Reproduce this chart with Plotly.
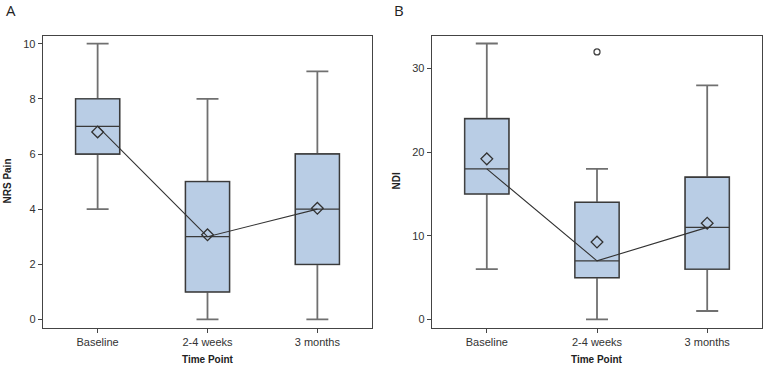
import plotly.graph_objects as go

W, H = 764, 365

categories = ["Baseline", "2-4 weeks", "3 months"]

# Panel A: NRS Pain
nrs_min = [4, 0, 0]
nrs_q1 = [6, 1, 2]
nrs_med = [7, 3, 4]
nrs_q3 = [8, 5, 6]
nrs_max = [10, 8, 9]
nrs_mean = [6.8, 3.07, 4.03]
nrs_ticks = [0, 2, 4, 6, 8, 10]

# Panel B: NDI
ndi_min = [6, 0, 1]
ndi_q1 = [15, 5, 6]
ndi_med = [18, 7, 11]
ndi_q3 = [24, 14, 17]
ndi_max = [33, 18, 28]
ndi_mean = [19.2, 9.25, 11.5]
ndi_ticks = [0, 10, 20, 30]
ndi_out_x = ["2-4 weeks"]
ndi_out_y = [32]

FILL = "#B9CDE5"
BORDER = "#3a3a3a"
WHISK = "#707070"

fig = go.Figure()


def add_panel(xa, ya, mn, q1, med, q3, mx, mean):
    # whiskers (gray)
    fig.add_trace(go.Box(
        x=categories, q1=q1, median=med, q3=q3, lowerfence=mn, upperfence=mx,
        fillcolor=FILL, line=dict(color=WHISK, width=1.8), width=0.4,
        whiskerwidth=0.5, boxpoints=False, hoverinfo="skip",
        xaxis=xa, yaxis=ya, showlegend=False))
    # box body (dark border)
    fig.add_trace(go.Box(
        x=categories, q1=q1, median=med, q3=q3, lowerfence=q1, upperfence=q3,
        fillcolor=FILL, line=dict(color=BORDER, width=1.3), width=0.4,
        whiskerwidth=0, boxpoints=False, hoverinfo="skip",
        xaxis=xa, yaxis=ya, showlegend=False))
    # median connecting line
    fig.add_trace(go.Scatter(
        x=categories, y=med, mode="lines",
        line=dict(color="#333333", width=1.1),
        xaxis=xa, yaxis=ya, showlegend=False, hoverinfo="skip"))
    # means
    fig.add_trace(go.Scatter(
        x=categories, y=mean, mode="markers",
        marker=dict(symbol="diamond-open", size=9, color="#333333",
                    line=dict(width=1.3, color="#333333")),
        xaxis=xa, yaxis=ya, showlegend=False, hoverinfo="skip"))


add_panel("x", "y", nrs_min, nrs_q1, nrs_med, nrs_q3, nrs_max, nrs_mean)
add_panel("x2", "y2", ndi_min, ndi_q1, ndi_med, ndi_q3, ndi_max, ndi_mean)
fig.add_trace(go.Scatter(
    x=ndi_out_x, y=ndi_out_y, mode="markers",
    marker=dict(symbol="circle-open", size=6, color="#444444",
                line=dict(width=1.3, color="#444444")),
    xaxis="x2", yaxis="y2", showlegend=False, hoverinfo="skip"))

tickfont = dict(family="Liberation Sans, Arial, sans-serif", size=11, color="#333333")
axis_common = dict(showline=True, linecolor="#444444", linewidth=1, mirror=True,
                   ticks="outside", ticklen=4, tickcolor="#444444", showgrid=False,
                   zeroline=False, tickfont=tickfont)

ytop = 1 - 36 / H
ybot = 1 - 327.7 / H

fig.update_layout(
    width=W, height=H, margin=dict(l=0, r=0, t=0, b=0),
    paper_bgcolor="white", plot_bgcolor="white",
    boxmode="overlay",
    xaxis=dict(domain=[42.7 / W, 372.3 / W], type="category",
               categoryorder="array", categoryarray=categories,
               range=[-0.5, 2.5], anchor="y", **axis_common),
    yaxis=dict(domain=[ybot, ytop], range=[-0.3, 10.28], tickvals=nrs_ticks,
               anchor="x", **axis_common),
    xaxis2=dict(domain=[431.7 / W, 762.3 / W], type="category",
                categoryorder="array", categoryarray=categories,
                range=[-0.5, 2.5], anchor="y2", **axis_common),
    yaxis2=dict(domain=[ybot, ytop], range=[-1.0, 33.9], tickvals=ndi_ticks,
                anchor="x2", **axis_common),
)

title_font = dict(family="Liberation Sans, Arial, sans-serif", size=10, color="#222222")
letter_font = dict(family="Open Sans, Liberation Sans, sans-serif", size=15, color="#222222")

ann = [
    dict(text="<b>Time Point</b>", x=207.5 / W, y=1 - 359 / H, xref="paper", yref="paper",
         showarrow=False, font=title_font, xanchor="center", yanchor="middle"),
    dict(text="<b>Time Point</b>", x=597 / W, y=1 - 359 / H, xref="paper", yref="paper",
         showarrow=False, font=title_font, xanchor="center", yanchor="middle"),
    dict(text="<b>NRS Pain</b>", x=6.5 / W, y=1 - 181 / H, xref="paper", yref="paper",
         showarrow=False, font=title_font, textangle=-90, xanchor="center", yanchor="middle"),
    dict(text="<b>NDI</b>", x=395.5 / W, y=1 - 181 / H, xref="paper", yref="paper",
         showarrow=False, font=title_font, textangle=-90, xanchor="center", yanchor="middle"),
    dict(text="A", x=11 / W, y=1 - 10 / H, xref="paper", yref="paper",
         showarrow=False, font=letter_font, xanchor="center", yanchor="middle"),
    dict(text="B", x=399 / W, y=1 - 10 / H, xref="paper", yref="paper",
         showarrow=False, font=letter_font, xanchor="center", yanchor="middle"),
]
fig.update_layout(annotations=ann)

fig.write_html("out.html")
